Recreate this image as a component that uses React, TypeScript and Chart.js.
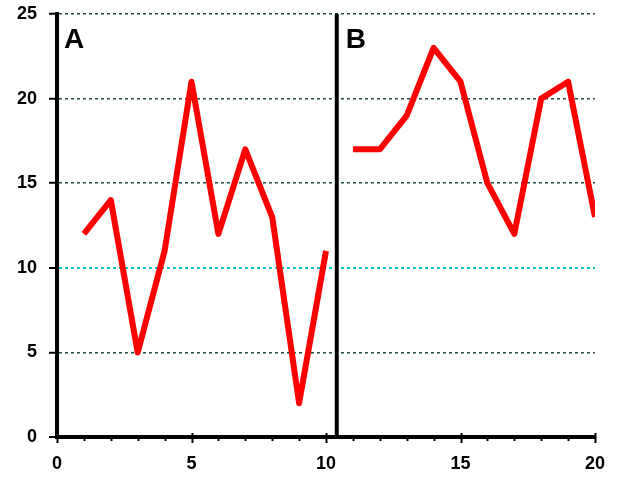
import React, { useEffect, useRef } from "react";
import { Chart, registerables } from "chart.js";

Chart.register(...registerables);

const xA = [1, 2, 3, 4, 5, 6, 7, 8, 9, 10];
const seriesA = [12, 14, 5, 11, 21, 12, 17, 13, 2, 11];
const xB = [11, 12, 13, 14, 15, 16, 17, 18, 19, 20];
const seriesB = [17, 17, 19, 23, 21, 15, 12, 20, 21, 13];
const separatorX = 10.4;
const panelLabels = ["A", "B"];
const xTicks = [0, 5, 10, 15, 20];
const yTicks = [0, 5, 10, 15, 20, 25];

const FONT = "'Liberation Sans', Arial, sans-serif";

const decorPlugin = {
  id: "decor",
  afterDatasetsDraw(chart: any) {
    const { ctx, chartArea, scales } = chart;
    const xs = scales.x;
    const y0 = chartArea.bottom;
    ctx.save();
    ctx.strokeStyle = "#000";
    ctx.lineWidth = 2;
    for (let v = 0; v <= 20; v++) {
      const px = Math.round(xs.getPixelForValue(v)) + 0.5;
      const major = xTicks.includes(v);
      ctx.beginPath();
      ctx.moveTo(px, major ? y0 - 4 : y0);
      ctx.lineTo(px, major ? y0 + 6 : y0 + 4);
      ctx.stroke();
    }
    ctx.fillStyle = "#000";
    ctx.font = `bold 28px ${FONT}`;
    ctx.textBaseline = "top";
    ctx.textAlign = "left";
    ctx.fillText(panelLabels[0], chartArea.left + 7, chartArea.top + 12);
    ctx.fillText(panelLabels[1], xs.getPixelForValue(separatorX) + 9, chartArea.top + 12);
    ctx.restore();
  },
};

export default function App() {
  const ref = useRef<HTMLCanvasElement>(null);
  useEffect(() => {
    const chart = new Chart(ref.current!, {
      type: "line",
      data: {
        datasets: [
          {
            data: xA.map((x, i) => ({ x, y: seriesA[i] })),
            borderColor: "#ff0000",
            borderWidth: 6,
            borderJoinStyle: "round",
            pointRadius: 0,
            tension: 0,
          },
          {
            data: xB.map((x, i) => ({ x, y: seriesB[i] })),
            borderColor: "#ff0000",
            borderWidth: 6,
            borderJoinStyle: "round",
            pointRadius: 0,
            tension: 0,
          },
          {
            data: [
              { x: separatorX, y: 0 },
              { x: separatorX, y: 25.2 },
            ],
            borderColor: "#000",
            borderWidth: 4,
            pointRadius: 0,
          },
        ],
      },
      options: {
        animation: false,
        responsive: false,
        maintainAspectRatio: false,
        layout: { padding: { top: 14, right: 40, left: 0, bottom: 0 } },
        plugins: { legend: { display: false }, tooltip: { enabled: false } },
        scales: {
          x: {
            type: "linear",
            min: 0,
            max: 20,
            afterBuildTicks: (s: any) => {
              s.ticks = xTicks.map((v) => ({ value: v }));
            },
            afterFit: (s: any) => {
              s.height = 43;
              s.paddingLeft = 0;
              s.paddingRight = 0;
            },
            grid: { display: false },
            border: { display: true, color: "#000", width: 4 },
            ticks: {
              color: "#000",
              padding: 8,
              font: { family: FONT, size: 18, weight: "bold" },
              maxRotation: 0,
            },
          },
          y: {
            type: "linear",
            min: 0,
            max: 25,
            afterBuildTicks: (s: any) => {
              s.ticks = yTicks.map((v) => ({ value: v }));
            },
            afterFit: (s: any) => {
              s.width = 57;
              s.paddingTop = 0;
              s.paddingBottom = 0;
            },
            grid: {
              color: (c: any) => (c.tick && c.tick.value === 10 ? "#00c8c8" : "#24494a"),
              lineWidth: (c: any) => (c.tick && c.tick.value === 0 ? 0 : c.tick && c.tick.value === 10 ? 2 : 1.5),
              tickLength: 8,
              tickColor: "#000",
              tickWidth: 2,
              tickBorderDash: [],
            },
            border: { display: true, color: "#000", width: 4, dash: [3, 3] },
            ticks: {
              color: "#000",
              padding: 12,
              font: { family: FONT, size: 18, weight: "bold" },
            },
          },
        },
      },
      plugins: [decorPlugin],
    } as any);
    return () => chart.destroy();
  }, []);
  return (
    <div style={{ position: "absolute", left: 0, top: 0, width: 635, height: 480, background: "#fff" }}>
      <canvas ref={ref} width={635} height={480} style={{ width: 635, height: 480, display: "block" }} />
    </div>
  );
}
